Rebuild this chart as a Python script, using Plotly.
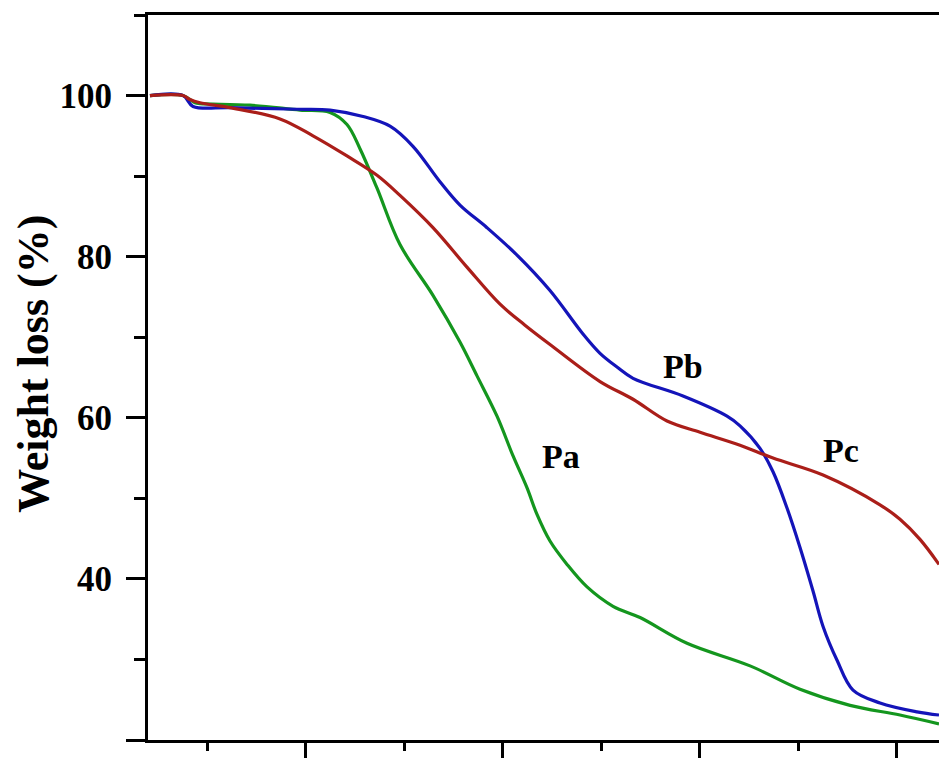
import plotly.graph_objects as go

# Temperature-like x values (axis has no labels in the reference)
pa_x = [42.0, 75.5, 87.7, 92.8, 143.5, 194.3, 224.8, 242.0, 255.2, 272.5, 295.8, 329.3, 356.7, 374.0,
        394.3, 410.5, 424.8, 434.9, 448.1, 465.4, 485.7, 512.1, 539.5, 587.2, 651.2, 701.9, 752.7,
        803.4, 843.0]
pa_y = [100.0, 100.0, 99.1, 99.0, 98.8, 98.2, 97.9, 96.4, 93.4, 88.5, 81.5, 75.2, 69.4, 65.2,
        60.2, 55.3, 51.3, 48.0, 44.7, 41.8, 39.0, 36.6, 35.2, 32.0, 29.2, 26.3, 24.3,
        23.1, 22.0]

pb_x = [42.0, 75.5, 85.7, 123.2, 191.3, 224.8, 258.3, 285.7, 309.0, 336.4, 356.7, 384.1, 414.6, 448.1,
        481.6, 498.9, 516.1, 532.4, 583.1, 627.8, 641.0, 661.3, 674.5, 688.7, 701.9, 715.1, 725.3,
        739.5, 755.7, 783.1, 820.7, 843.0]
pb_y = [100.0, 100.0, 98.65, 98.5, 98.3, 98.2, 97.4, 96.2, 93.7, 89.3, 86.4, 83.6, 80.2, 75.8,
        70.4, 68.0, 66.3, 64.9, 62.7, 60.2, 59.0, 56.2, 53.3, 48.8, 43.9, 38.5, 34.1,
        29.9, 26.2, 24.6, 23.5, 23.1]

pc_x = [42.0, 75.5, 82.6, 92.8, 123.2, 174.0, 207.5, 242.0, 272.5, 295.8, 329.3, 363.8, 397.4, 422.7,
        448.1, 498.9, 532.4, 566.9, 600.4, 641.0, 674.5, 725.3, 783.1, 803.4, 823.7, 843.0]
pc_y = [100.0, 100.0, 99.5, 99.1, 98.5, 97.1, 95.0, 92.5, 90.1, 87.6, 83.6, 78.7, 74.1, 71.5,
        69.1, 64.5, 62.3, 59.6, 58.2, 56.6, 55.0, 52.9, 49.2, 47.4, 44.9, 41.8]

series_names = ["Pa", "Pb", "Pc"]
label_x = [459.3, 583.1, 743.5]
label_y = [55.2, 66.4, 56.0]

y_ticks = [20, 40, 60, 80, 100]
y_ticktext = ["", "40", "60", "80", "100"]
y_minor = [30, 50, 70, 90, 110]
x_ticks = [200, 400, 600, 800]
x_minor = [100, 300, 500, 700]

colors = {"Pa": "rgb(20,150,30)", "Pb": "rgb(20,20,185)", "Pc": "rgb(170,30,25)"}
FONT = "Liberation Serif, Times New Roman, serif"

fig = go.Figure()
for name, xs, ys in [("Pa", pa_x, pa_y), ("Pb", pb_x, pb_y), ("Pc", pc_x, pc_y)]:
    fig.add_trace(go.Scatter(x=xs, y=ys, mode="lines", name=name,
                             line=dict(color=colors[name], width=3.2, shape="spline", smoothing=1.0)))

for name, lx, ly in zip(series_names, label_x, label_y):
    fig.add_annotation(x=lx, y=ly, text=name, showarrow=False,
                       font=dict(family=FONT, size=34, color="black", weight="bold"))

fig.add_annotation(xref="paper", yref="paper", x=-0.144, y=0.519, text="Weight loss (%)",
                   textangle=-90, showarrow=False, xanchor="center", yanchor="middle",
                   font=dict(family=FONT, size=44, color="black", weight="bold"))

fig.update_layout(
    width=939, height=758,
    margin=dict(l=148, r=0, t=15, b=13),
    paper_bgcolor="white", plot_bgcolor="white",
    showlegend=False,
    xaxis=dict(range=[40, 843], showgrid=False, zeroline=False,
               showline=True, linecolor="black", linewidth=3, mirror=True,
               ticks="outside", tickvals=x_ticks, showticklabels=False,
               ticklen=18, tickwidth=3, tickcolor="black",
               minor=dict(tickvals=x_minor, ticks="outside", ticklen=8, tickwidth=3, tickcolor="black")),
    yaxis=dict(range=[20, 110], showgrid=False, zeroline=False,
               showline=True, linecolor="black", linewidth=3, mirror=False,
               ticks="outside", tickvals=y_ticks, ticktext=y_ticktext,
               ticklen=19, tickwidth=3, tickcolor="black", ticklabelstandoff=7,
               tickfont=dict(family=FONT, size=35, color="black", weight="bold"),
               minor=dict(tickvals=y_minor, ticks="outside", ticklen=11, tickwidth=3, tickcolor="black")),
)

fig.write_html("out.html",
               config={"displayModeBar": False},
               post_script="document.body.style.margin='0';document.body.style.overflow='hidden';")
